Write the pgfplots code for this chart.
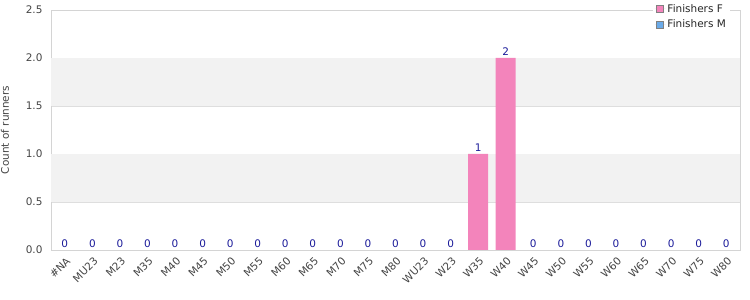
\documentclass[border=0pt]{standalone}
\usepackage{pgfplots}
\pgfplotsset{compat=1.18}
\usepackage{fontspec}
\setmainfont{DejaVu Sans}
\definecolor{fcol}{HTML}{F384BB}
\definecolor{mcol}{HTML}{6AAAE8}
\definecolor{lab}{HTML}{1A1A99}
\definecolor{axc}{HTML}{D4D4D4}
\definecolor{gridc}{HTML}{DEDEDE}
\definecolor{band}{HTML}{F2F2F2}
\definecolor{txt}{HTML}{444444}
\begin{document}
\begin{tikzpicture}
\begin{axis}[
  set layers,
  at={(0,0)}, anchor=south west,
  scale only axis, width=689bp, height=240bp,
  xmin=-0.5, xmax=24.5, ymin=0, ymax=2.5,
  ytick={0,0.5,1,1.5,2,2.5},
  /pgf/number format/assume math mode=true,
  yticklabel style={/pgf/number format/fixed, /pgf/number format/fixed zerofill, /pgf/number format/precision=1},
  yticklabel style={font=\fontsize{10.5}{12.5}\selectfont, text=txt, xshift=-5bp},
  xtick={0,...,24},
  xticklabels={\#NA,MU23,M23,M35,M40,M45,M50,M55,M60,M65,M70,M75,M80,WU23,W23,W35,W40,W45,W50,W55,W60,W65,W70,W75,W80},
  x tick label style={rotate=45, anchor=north east, font=\fontsize{10.5}{12}\selectfont, text=txt, inner sep=1bp, xshift=-3bp, yshift=-4bp},
  ymajorgrids, grid style={gridc},
  axis line style={axc},
  major tick length=0,
  ylabel={Count of runners},
  ylabel style={at={(axis description cs:-0.0668,0.5)}, anchor=center, font=\fontsize{10.5}{12.5}\selectfont, text=txt},
  ybar, bar width=20bp,
  legend style={at={(axis description cs:1,1)}, anchor=north east, xshift=-10bp, yshift=10bp,
    draw=none, fill=white, font=\fontsize{10.5}{12.5}\selectfont, text=black!85,
    nodes={font=\fontsize{10.5}{12.5}\selectfont},
    inner sep=2bp, row sep=2bp, legend cell align=left},
]
\fill[band, on layer=axis background] (axis cs:-0.5,0.5) rectangle (axis cs:24.5,1);
\fill[band, on layer=axis background] (axis cs:-0.5,1.5) rectangle (axis cs:24.5,2);
\addplot[fill=fcol, draw=none, bar shift=0bp,
  legend image code/.code={\draw[fill=fcol, draw=gray] (0bp,-3.5bp) rectangle (7bp,3.5bp); \path (-2bp,0) -- (9bp,0);},
  nodes near coords,
  every node near coord/.append style={font=\fontsize{10.5}{12.5}\selectfont, text=lab, inner sep=2bp}]
  coordinates {(0,0) (1,0) (2,0) (3,0) (4,0) (5,0) (6,0) (7,0) (8,0) (9,0) (10,0) (11,0) (12,0)
   (13,0) (14,0) (15,1) (16,2) (17,0) (18,0) (19,0) (20,0) (21,0) (22,0) (23,0) (24,0)};
\addlegendentry{Finishers F}
\addplot[fill=mcol, draw=none, bar shift=0bp,
  legend image code/.code={\draw[fill=mcol, draw=gray] (0bp,-3.5bp) rectangle (7bp,3.5bp); \path (-2bp,0) -- (9bp,0);}]
  coordinates {(0,0) (1,0) (2,0) (3,0) (4,0) (5,0) (6,0) (7,0) (8,0) (9,0) (10,0) (11,0) (12,0)
   (13,0) (14,0) (15,0) (16,0) (17,0) (18,0) (19,0) (20,0) (21,0) (22,0) (23,0) (24,0)};
\addlegendentry{Finishers M}
\end{axis}
\pgfresetboundingbox
\path[use as bounding box] (-51bp,-50bp) rectangle (699bp,250bp);
\end{tikzpicture}
\end{document}
